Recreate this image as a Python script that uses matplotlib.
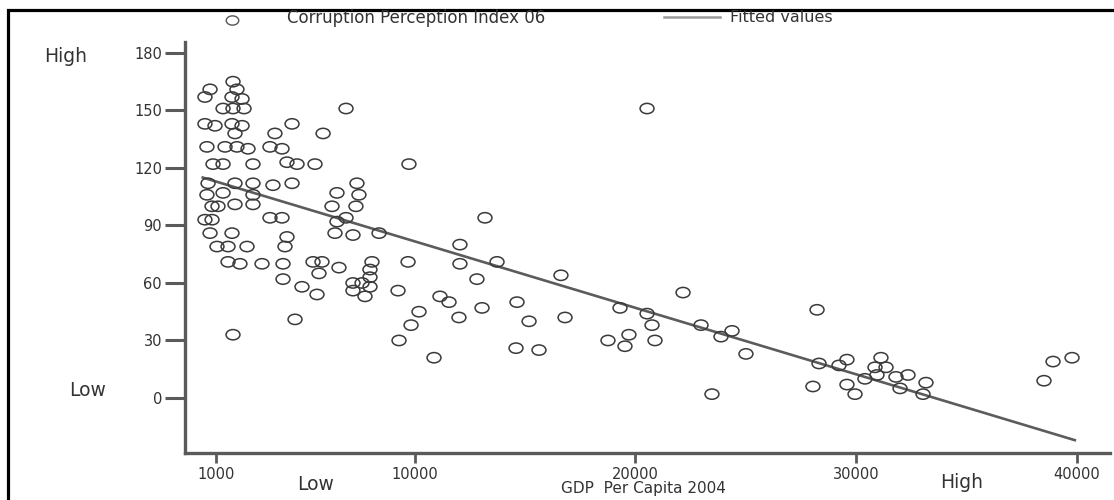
import matplotlib
matplotlib.use('Agg')
import matplotlib.pyplot as plt
import numpy as np
from matplotlib.lines import Line2D
from matplotlib.markers import MarkerStyle
from matplotlib.path import Path
from matplotlib.patches import Rectangle

# GDP per capita 2004 (x) and Corruption Perception Index 06 (y)
gdp = [
    1770, 730, 500, 1950, 1725, 2180, 1320, 1770, 2270, 500, 955, 1725, 2180, 1860,
    590, 1410, 1950, 2450, 865, 1320, 2675, 640, 1860, 2675, 590, 1320, 2675, 820,
    1090, 1860, 2675, 500, 820, 730, 1725, 1045, 1545, 2405, 1545, 2085, 3085, 1770,
    3445, 3990, 3670, 4445, 4215, 4670, 5485, 3580, 4445, 6890, 5850, 7385, 6480,
    7475, 6255, 7340, 3445, 3990, 6480, 6890, 4215, 6390, 7205, 8385, 4125, 4035,
    5395, 5800, 6570, 8065, 7975, 4035, 5665, 4895, 5575, 7205, 7615, 7975, 7205,
    7975, 7750, 4580, 9290, 9245, 9700,
    9740, 13185, 12050, 12050, 13730, 16625, 11145, 11555, 10195, 9835, 10875,
    12820, 12005, 13050, 14635, 15180, 16810, 14590, 15630, 20525, 19300, 20525,
    20750, 19705, 18755, 19525, 20885, 22155, 22970, 23875, 24375, 25005, 23465,
    28225, 28315, 29220, 29580, 28040, 29580, 29945, 30395, 30850, 31120, 31350,
    30940, 31800, 32345, 31985, 33160, 33025, 38915, 39775, 38505,
]
cpi = [
    165, 161, 157, 161, 157, 156, 151, 151, 151, 143, 142, 143, 142, 138,
    131, 131, 131, 130, 122, 122, 122, 112, 112, 112, 106, 107, 106, 100,
    100, 101, 101, 93, 93, 86, 86, 79, 79, 79, 71, 70, 70, 33,
    131, 130, 138, 143, 123, 122, 122, 111, 112, 151, 138, 112, 107,
    106, 100, 100, 94, 94, 92, 94, 84, 86, 85, 86, 79, 70,
    71, 71, 68, 71, 67, 62, 65, 58, 54, 60, 60, 63, 56,
    58, 53, 41, 30, 56, 71,
    122, 94, 80, 70, 71, 64, 53, 50, 45, 38, 21,
    62, 42, 47, 50, 40, 42, 26, 25, 151, 47, 44,
    38, 33, 30, 27, 30, 55, 38, 32, 35, 23, 2,
    46, 18, 17, 20, 6, 7, 2, 10, 16, 21, 16,
    12, 11, 12, 5, 8, 2, 19, 21, 9,
]

# fitted values, end points of the regression line
fit_x = [400, 39900]
fit_y = [115, -22]

x_ticks = [1000, 10000, 20000, 30000, 40000]
y_ticks = [0, 30, 60, 90, 120, 150, 180]

W, H = 1114, 500
TXT = '#333333'
AXC = '#5a5a5a'

def fx(px):
    return px / W

def fy(py):
    return 1 - py / H

fig = plt.figure(figsize=(W / 100, H / 100), dpi=100)
ax = fig.add_axes([fx(185), fy(453), (1110 - 185) / W, (453 - 42) / H])

circ = Path.unit_circle()
ell = Path(circ.vertices * np.array([1.0, 0.74]), circ.codes)
mk = MarkerStyle(ell)

ax.scatter(gdp, cpi, marker=mk, s=100, facecolors='none', edgecolors='#3a3a3a',
           linewidths=1.1, zorder=3)
ax.plot(fit_x, fit_y, color='#5c5c5c', lw=1.9, zorder=2)

ax.set_xlim(-404, 41495)
ax.set_ylim(-28.7, 185.7)
ax.set_xticks(x_ticks)
ax.set_xticklabels([str(t) for t in x_ticks])
ax.set_yticks(y_ticks)
ax.set_yticklabels([str(t) for t in y_ticks])

for s in ['top', 'right']:
    ax.spines[s].set_visible(False)
for s in ['left', 'bottom']:
    ax.spines[s].set_color(AXC)
    ax.spines[s].set_linewidth(2.4)

ax.tick_params(axis='y', length=14.5, width=2.2, color=AXC, pad=2, labelsize=10.5, labelcolor=TXT)
ax.tick_params(axis='x', length=7, width=2.0, color=AXC, pad=3, labelsize=10.5, labelcolor=TXT)

# side labels
fig.text(fx(66), fy(57), 'High', ha='center', va='center', fontsize=13.5, color=TXT)
fig.text(fx(88), fy(390), 'Low', ha='center', va='center', fontsize=13.5, color=TXT)
fig.text(fx(316), fy(484), 'Low', ha='center', va='center', fontsize=13.5, color=TXT)
fig.text(fx(962), fy(482), 'High', ha='center', va='center', fontsize=13.5, color=TXT)
fig.text(fx(643), fy(488), 'GDP  Per Capita 2004', ha='center', va='center', fontsize=11, color=TXT)

# legend row at the top
fig.add_artist(Line2D([fx(232)], [fy(20)], transform=fig.transFigure, marker=mk,
                      markersize=9, markerfacecolor='none', markeredgecolor='#555555',
                      markeredgewidth=1.0, linestyle='none'))
fig.text(fx(287), fy(18), 'Corruption Perception Index 06', ha='left', va='center',
         fontsize=12, color=TXT)
fig.add_artist(Line2D([fx(664), fx(720)], [fy(17), fy(17)], transform=fig.transFigure,
                      color='#999999', lw=1.8))
fig.text(fx(730), fy(18), 'Fitted values', ha='left', va='center', fontsize=11.5, color=TXT)

# outer frame, cut by the image edges
fig.add_artist(Rectangle((fx(8), fy(560)), (W + 200) / W, (560 - 9.5) / H,
                         transform=fig.transFigure, fill=False, edgecolor='black',
                         lw=2.3, clip_on=False))

fig.savefig('out.png', dpi=100, facecolor='white')
